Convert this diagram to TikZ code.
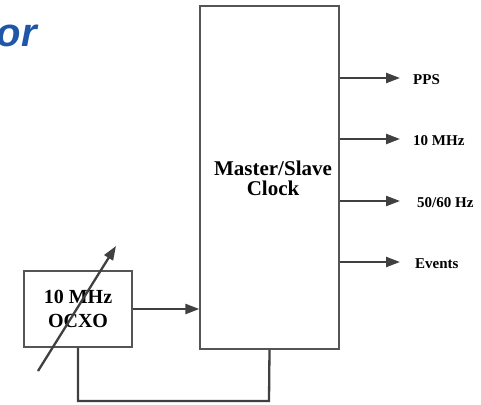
\documentclass[tikz,border=0pt]{standalone}
\usepackage{fontspec}
\setmainfont{Liberation Serif}
\newfontfamily\titlefont{Liberation Sans}
\usetikzlibrary{arrows.meta}
\definecolor{ln}{HTML}{404040}
\definecolor{bx}{HTML}{555555}
\definecolor{ttl}{HTML}{1F56A8}
\tikzset{
  box/.style={draw=bx, line width=1.3pt, inner sep=0pt},
  conn/.style={draw=ln, line width=2.3pt, -{Triangle[length=14pt,width=10pt]}},
  wire/.style={draw=ln, line width=2.3pt},
  lbl/.style={anchor=base west, inner sep=0pt, font=\fontsize{15}{17}\selectfont\bfseries},
}
\begin{document}
\begin{tikzpicture}[x=1pt,y=-1pt]
\useasboundingbox (0,0) rectangle (481,404);
% title fragment
\node[anchor=base east, inner sep=0pt, text=ttl, font=\titlefont\fontsize{40}{44}\selectfont\bfseries\itshape] (title) at (37,47) {or};
% boxes
\node[box, minimum width=139pt, minimum height=343pt] (clk) at (269.5,177.5) {};
\node[align=center, inner sep=0pt, font=\fontsize{21}{20}\selectfont\bfseries] (clktxt) at (273,178) {Master/Slave\\Clock};
\node[box, minimum width=108pt, minimum height=76pt] (osc) at (78,309) {};
\node[align=center, inner sep=0pt, font=\fontsize{20}{24}\selectfont\bfseries] (osctxt) at (78,309) {10 MHz\\OCXO};
% outputs
\coordinate (o1) at (400,78);
\coordinate (o2) at (400,139);
\coordinate (o3) at (400,201);
\coordinate (o4) at (400,262);
\draw[conn] (clk.east |- o1) -- (o1);
\draw[conn] (clk.east |- o2) -- (o2);
\draw[conn] (clk.east |- o3) -- (o3);
\draw[conn] (clk.east |- o4) -- (o4);
\node[lbl] (l1) at (413,84) {PPS};
\node[lbl] (l2) at (413,145) {10 MHz};
\node[lbl] (l3) at (417,207) {50/60 Hz};
\node[lbl] (l4) at (415,268) {Events};
% osc to clock
\draw[conn] (osc.east) -- (clk.west |- osc.east);
% feedback
\coordinate (fb1) at (78,401);
\coordinate (fb2) at (269,401);
\draw[wire] (osc.south) -- (fb1) -- (fb2) -- (clk.south);
% tuning arrow
\coordinate (t0) at (38,371);
\coordinate (t1) at (116,246);
\draw[conn] (t0) -- (t1);
\end{tikzpicture}
\end{document}
